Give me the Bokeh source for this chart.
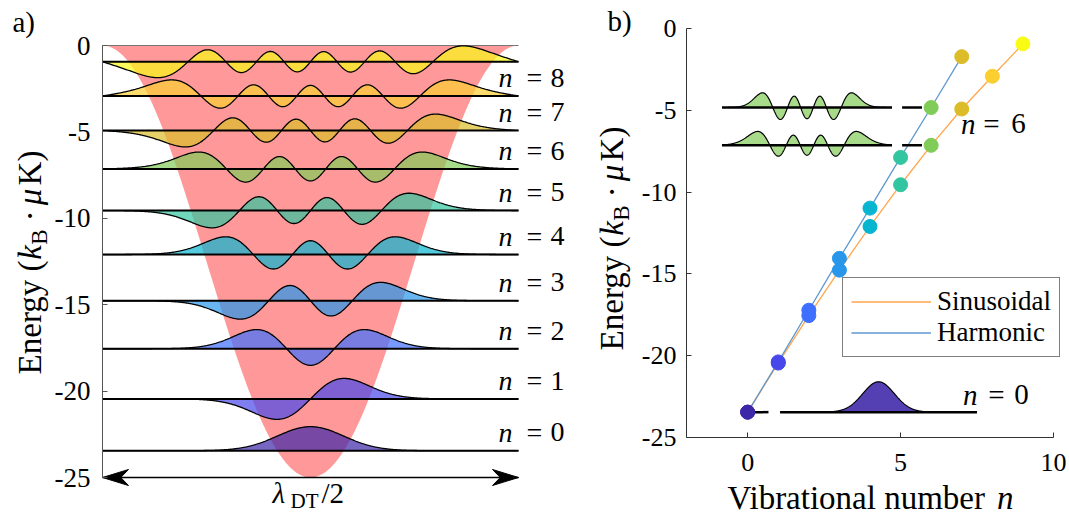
import numpy as np
from bokeh.plotting import figure
from bokeh.models import Range1d, FixedTicker, Label, Legend, LegendItem
from bokeh.layouts import row
from bokeh.embed import file_html
from bokeh.resources import INLINE
from bokeh.core.properties import value

# ---------------- data ----------------
levels = [0, 1, 2, 3, 4, 5, 6, 7, 8, 9]
E_sinusoidal = [-23.45, -20.45, -17.55, -14.77, -12.1, -9.55, -7.14, -4.92, -2.92, -0.94]
levels_harm = [0, 1, 2, 3, 4, 5, 6, 7]
E_harmonic = [-23.45, -20.38, -17.22, -14.05, -10.98, -7.88, -4.83, -1.72]
labelled_levels = [0, 1, 2, 3, 4, 5, 6, 7, 8]
yticks = [0, -5, -10, -15, -20, -25]
xticks_b = [0, 5, 10]
V0 = 25.0          # lattice depth (kB uK)
hbar_omega = 3.1   # harmonic level spacing (kB uK)
parula10 = ["#3E26A8", "#4747EB", "#3E6FFF", "#2796EB", "#08B5D0",
            "#31C69F", "#81CC59", "#DCBD29", "#FCCF30", "#F9FB15"]
ORANGE = "#FFA64D"
BLUE = "#5E98CF"
PINK = "#FF9999"
FONT = "Liberation Serif"
BSH = 0.33  # empirical baseline correction (fraction of font size)

# ---------------- wavefunctions (1D Schroedinger, x in units of lambda/2) ----------------
KIN = (hbar_omega / 2) ** 2 / (V0 * np.pi ** 2)


def eigenstates(vfun, half, npts, nstates):
    x = np.linspace(-half, half, npts)
    h = x[1] - x[0]
    xi = x[1:-1]
    off = np.full(len(xi) - 1, -KIN / h ** 2)
    H = np.diag(2 * KIN / h ** 2 + vfun(xi)) + np.diag(off, 1) + np.diag(off, -1)
    w, v = np.linalg.eigh(H)
    psi = np.zeros((nstates, npts))
    for k in range(nstates):
        f = v[:, k] / np.sqrt(h)
        big = np.where(np.abs(f) > 0.3 * np.abs(f).max())[0][-1]
        if f[big] < 0:
            f = -f
        psi[k, 1:-1] = f
    return x, psi


def v_sin(x):
    return -V0 * np.cos(np.pi * x) ** 2


def v_harm(x):
    return -V0 + V0 * np.pi ** 2 * x ** 2


xs, psi_sin = eigenstates(v_sin, 0.5, 601, 10)
xh, psi_harm = eigenstates(v_harm, 0.8, 801, 8)

# text width helper (Times metrics)
REG = {'E': .611, 'n': .5, 'e': .444, 'r': .333, 'g': .5, 'y': .5, ' ': .25, '(': .333, ')': .333,
       'K': .722, 'B': .667, '·': .25, 'V': .722, 'i': .278, 'b': .5, 'a': .444, 't': .278,
       'o': .5, 'l': .278, 'u': .5, 'm': .778}


def tw(s, size):
    return sum(REG.get(c, .5) for c in s) * size


def rot_ylabel(fig, tox, toy, xbase, ycenter, F):
    pieces = [("Energy (", "normal", F, 0, 0), ("k", "italic", F, 0, .46 * F),
              ("B", "normal", 0.7 * F, 0.2 * F, .667 * .7 * F), ("", "normal", F, 0, .24 * F),
              ("·", "normal", F, 0, .25 * F), ("", "normal", F, 0, .24 * F),
              ("μ", "italic", F, 0, .6 * F), ("K)", "normal", F, 0, 0)]
    widths = [w if w else tw(t, sz) for t, st, sz, sh, w in pieces]
    total = sum(widths)
    y = ycenter + total / 2
    for (t, st, sz, sh, w), wd in zip(pieces, widths):
        if t:
            fig.add_layout(Label(x=tox(xbase + sh - BSH * sz), y=toy(y), text=t, angle=np.pi / 2,
                                 text_align="left", text_baseline="alphabetic",
                                 text_font=FONT, text_font_size=f"{sz:.0f}px",
                                 text_font_style=st, text_color="black"))
        y -= wd


def style_axis(axis, ticks, size, color):
    axis.ticker = FixedTicker(ticks=ticks)
    axis.major_tick_in = 5
    axis.major_tick_out = 0
    axis.minor_tick_line_color = None
    axis.major_label_text_font = FONT
    axis.major_label_text_font_size = size
    axis.major_label_text_color = "black"
    axis.axis_line_color = color
    axis.major_tick_line_color = color
    axis.major_label_overrides = {t: str(t) for t in ticks}


# ---------------- panel a (frame = whole canvas, axis at fixed location) ----------------
PXA = 416.0
PYA = 432.0 / 25.0


def ax(px):
    return -0.5 + (px - 102) / PXA


def ay(py):
    return -(py - 45) / PYA


pa = figure(width=580, height=517, x_range=Range1d(ax(0), ax(580)), y_range=Range1d(ay(517), ay(0)),
            x_axis_location=None, toolbar_location=None, output_backend="svg", title=None,
            min_border=0, min_border_left=0, min_border_right=0, min_border_top=0, min_border_bottom=0)
pa.xgrid.visible = False
pa.ygrid.visible = False
pa.outline_line_color = None
ya = pa.yaxis[0]
style_axis(ya, yticks, "27px", "#555555")
ya.fixed_location = -0.5
ya.bounds = (-25, 0)
ya.major_label_standoff = 12

xx = np.linspace(-0.5, 0.5, 400)
pa.varea(x=xx, y1=v_sin(xx), y2=np.zeros_like(xx), fill_color=PINK, fill_alpha=1.0)
pa.line([-0.5, 0.5], [0, 0], line_color="#777777", line_width=1)

AMP_A = 0.525
for n in levels:
    base = E_sinusoidal[n]
    yy = base + AMP_A * psi_sin[n]
    pa.varea(x=xs, y1=np.full_like(xs, base), y2=yy, fill_color=parula10[n], fill_alpha=0.7)
    pa.line(xs, yy, line_color="black", line_width=1.3)
    pa.line([-0.5, 0.5], [base, base], line_color="black", line_width=2)

# double arrow lambda/2
pa.line([-0.5, 0.5], [-25, -25], line_color="black", line_width=1.5)
L = 26 / PXA
hh = 8 / PYA
pa.patch([-0.5, -0.5 + L, -0.5 + 0.7 * L, -0.5 + L], [-25, -25 + hh, -25, -25 - hh], fill_color="black", line_color="black")
pa.patch([0.5, 0.5 - L, 0.5 - 0.7 * L, 0.5 - L], [-25, -25 + hh, -25, -25 - hh], fill_color="black", line_color="black")
pa.text(x=[ax(272)], y=[ay(502 - BSH * 29)], text=["λ"], text_font=value(FONT), text_font_style="italic",
        text_font_size="29px", text_align="left", text_baseline="alphabetic", text_color="black")
pa.text(x=[ax(290)], y=[ay(507 - BSH * 21)], text=["DT"], text_font=value(FONT),
        text_font_size="21px", text_align="left", text_baseline="alphabetic", text_color="black")
pa.text(x=[ax(321)], y=[ay(502 - BSH * 29)], text=["/2"], text_font=value(FONT),
        text_font_size="29px", text_align="left", text_baseline="alphabetic", text_color="black")

# n = k labels (baseline 9 px above each level line)
lab_y = [E_sinusoidal[n] + (9 + BSH * 28) / PYA for n in labelled_levels]
m = len(labelled_levels)
pa.text(x=[ax(512)] * m, y=lab_y, text=["n"] * m, text_font=value(FONT), text_font_style="italic",
        text_font_size="28px", text_align="right", text_baseline="alphabetic", text_color="black")
pa.text(x=[ax(534)] * m, y=lab_y, text=["="] * m, text_font=value(FONT),
        text_font_size="28px", text_align="center", text_baseline="alphabetic", text_color="black")
pa.text(x=[ax(557)] * m, y=lab_y, text=[str(n) for n in labelled_levels], text_font=value(FONT),
        text_font_size="28px", text_align="center", text_baseline="alphabetic", text_color="black")

pa.add_layout(Label(x=ax(12), y=ay(31 - BSH * 29), text="a)", text_font=FONT, text_font_size="29px",
                    text_align="left", text_baseline="alphabetic", text_color="black"))
rot_ylabel(pa, ax, ay, 40, 262, 33)

# ---------------- panel b ----------------
PXB = 367.0 / 12.0
PYB = 409.0 / 25.0


def bx(gpx):
    return -2 + (gpx - 686) / PXB


def by(py):
    return -(py - 28) / PYB


pb = figure(width=489, height=517, x_range=Range1d(bx(580), bx(1069)), y_range=Range1d(by(517), by(0)),
            toolbar_location=None, output_backend="svg", title=None,
            min_border=0, min_border_left=0, min_border_right=0, min_border_top=0, min_border_bottom=0)
pb.xgrid.visible = False
pb.ygrid.visible = False
pb.outline_line_color = None
xb_axis = pb.xaxis[0]
yb_axis = pb.yaxis[0]
style_axis(xb_axis, xticks_b, "26px", "#333333")
style_axis(yb_axis, yticks, "26px", "#333333")
xb_axis.fixed_location = -25
xb_axis.bounds = (-2, 10)
xb_axis.major_label_standoff = 16
yb_axis.fixed_location = -2
yb_axis.bounds = (-25, 0)
yb_axis.major_label_standoff = 10

r_sin = pb.line(levels, E_sinusoidal, line_color=ORANGE, line_width=1.3)
r_harm = pb.line(levels_harm, E_harmonic, line_color=BLUE, line_width=1.3)

# insets: n = 6 (harmonic above, sinusoidal below)
AMP_B6 = 0.457
C6, W6 = 1.94, 6.0
lo6, hi6 = -0.84, 4.72
for base, x0, psi in ((E_harmonic[6], xh, psi_harm[6]), (E_sinusoidal[6], xs, psi_sin[6])):
    X = C6 + x0 * W6
    keep = (X >= lo6) & (X <= hi6)
    X = X[keep]
    Y = base + AMP_B6 * psi[keep]
    pb.varea(x=X, y1=np.full_like(X, base), y2=Y, fill_color=parula10[6], fill_alpha=0.7)
    pb.line(X, Y, line_color="black", line_width=1.2)
    pb.line([lo6, hi6], [base, base], line_color="black", line_width=2.5)
    pb.line([5.05, 5.70], [base, base], line_color="black", line_width=2.5)

# inset: n = 0
AMP_B0 = 0.70
C0, W0 = 4.28, 6.47
lo0, hi0 = 1.06, 7.50
X = C0 + xs * W0
keep = (X >= lo0) & (X <= hi0)
X = X[keep]
base = E_sinusoidal[0]
Y = base + AMP_B0 * psi_sin[0][keep]
pb.varea(x=X, y1=np.full_like(X, base), y2=Y, fill_color=parula10[0], fill_alpha=0.88)
pb.line(X, Y, line_color="black", line_width=1.2)
pb.line([lo0, hi0], [base, base], line_color="black", line_width=2.5)
pb.line([0.2, 0.68], [base, base], line_color="black", line_width=2.5)

pb.scatter(levels, E_sinusoidal, size=14, fill_color=parula10, line_color=parula10)
pb.scatter(levels_harm, E_harmonic, size=14, fill_color=parula10[:8], line_color=parula10[:8])

for (nr, eq, dg, bl, txt) in ((975, 991, 1018, 133, "6"), (977, 996, 1021, 404, "0")):
    yy_t = by(bl - BSH * 29)
    pb.text(x=[bx(nr)], y=[yy_t], text=["n"], text_font=value(FONT), text_font_style="italic",
            text_font_size="29px", text_align="right", text_baseline="alphabetic", text_color="black")
    pb.text(x=[bx(eq)], y=[yy_t], text=["="], text_font=value(FONT),
            text_font_size="29px", text_align="center", text_baseline="alphabetic", text_color="black")
    pb.text(x=[bx(dg)], y=[yy_t], text=[txt], text_font=value(FONT),
            text_font_size="29px", text_align="center", text_baseline="alphabetic", text_color="black")

legend = Legend(items=[LegendItem(label="Sinusoidal", renderers=[r_sin]),
                       LegendItem(label="Harmonic", renderers=[r_harm])],
                location=(842 - 580, 517 - 357), padding=8, spacing=0, margin=0,
                glyph_width=80, glyph_height=29, label_height=29, label_standoff=6,
                label_text_font=FONT, label_text_font_size="27px", label_text_color="black",
                border_line_color="black", border_line_width=1,
                background_fill_color="white", background_fill_alpha=1.0)
pb.add_layout(legend)

pb.add_layout(Label(x=bx(607), y=by(30 - BSH * 29), text="b)", text_font=FONT, text_font_size="29px",
                    text_align="left", text_baseline="alphabetic", text_color="black"))
rot_ylabel(pb, bx, by, 622, 238, 33)

# x label: "Vibrational number n"
F = 33
w1 = tw("Vibrational number", F)
wsp = 0.3 * F
wn = 0.5 * F
x0 = 870 - (w1 + wsp + wn) / 2
pb.add_layout(Label(x=bx(x0), y=by(508 - BSH * F), text="Vibrational number", text_font=FONT,
                    text_font_size=f"{F}px", text_align="left", text_baseline="alphabetic", text_color="black"))
pb.add_layout(Label(x=bx(x0 + w1 + wsp), y=by(508 - BSH * F), text="n", text_font=FONT, text_font_style="italic",
                    text_font_size=f"{F}px", text_align="left", text_baseline="alphabetic", text_color="black"))

layout = row(pa, pb, spacing=0)
open("out.html", "w").write(file_html(layout, INLINE))
